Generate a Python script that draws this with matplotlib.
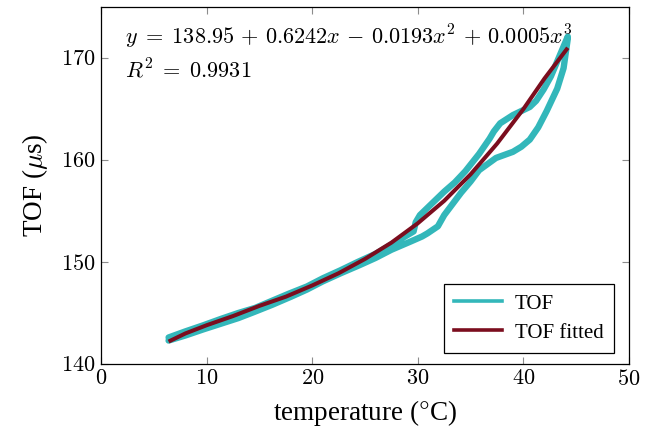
import matplotlib.pyplot as plt
from matplotlib.lines import Line2D
from matplotlib.ticker import FuncFormatter

plt.rcParams['mathtext.fontset'] = 'cm'
plt.rcParams['font.family'] = 'Liberation Serif'

# measured TOF loop: heating branch then cooling branch
tof_temp = [6.4, 8.0, 9.7, 11.5, 13.0, 14.5, 16.2, 18.0, 19.5, 21.0, 22.7, 24.5,
            26.0, 27.5, 29.3, 30.4, 30.9, 31.9, 32.5, 33.3, 34.1, 35.0, 35.8,
            36.6, 37.4, 38.2, 39.0, 39.8, 40.6, 41.4, 42.2, 43.2, 43.8, 44.2,
            44.2, 43.5, 42.6, 41.9, 41.2, 40.6, 39.8, 39.0, 38.4, 37.8, 37.2,
            36.8, 35.8, 34.5, 33.5, 32.5, 31.2, 30.2, 29.8, 29.6, 28.3, 26.0,
            24.3, 22.7, 21.0, 19.5, 17.8, 16.2, 14.6, 13.0, 11.3, 9.7, 8.0, 6.4]
tof_val = [142.3, 142.8, 143.4, 144.0, 144.5, 145.1, 145.8, 146.6, 147.3, 148.1,
           148.9, 149.7, 150.4, 151.2, 152.0, 152.5, 152.8, 153.5, 154.6, 155.7,
           156.8, 157.9, 159.0, 159.6, 160.2, 160.5, 160.8, 161.3, 162.0, 163.2,
           164.8, 167.0, 169.0, 171.9,
           172.1, 170.4, 168.2, 166.9, 165.8, 165.2, 164.8, 164.4, 164.0, 163.6,
           162.8, 162.1, 160.6, 158.9, 157.8, 156.9, 155.6, 154.6, 153.9, 153.0,
           152.2, 150.8, 150.0, 149.2, 148.4, 147.6, 146.9, 146.2, 145.5, 145.0,
           144.4, 143.8, 143.2, 142.6]

# fitted curve
fit_temp = [6.4, 8, 10, 12.5, 15, 17.5, 20, 22.5, 25, 27.5, 30, 32.5, 35, 37.5,
            40, 42, 44.2]
fit_val = [142.2, 143.0, 143.8, 144.7, 145.7, 146.6, 147.7, 148.9, 150.3, 151.9,
           153.8, 156.0, 158.6, 161.6, 165.0, 168.0, 171.0]

teal = '#33b7ba'
darkred = '#7b0d1e'

fig = plt.figure(figsize=(6.58, 4.32), dpi=100)
ax = fig.add_axes([0.1535, 0.1574, 0.8025, 0.8264])

ax.plot(tof_temp, tof_val, color=teal, lw=4.6, solid_joinstyle='round',
        solid_capstyle='round')
ax.plot(fit_temp, fit_val, color=darkred, lw=2.9, solid_capstyle='butt')

ax.set_xlim(0, 50)
ax.set_ylim(140, 175)
ax.set_xticks([0, 10, 20, 30, 40, 50])
ax.set_yticks([140, 150, 160, 170])
fmt = FuncFormatter(lambda v, p: f'${v:g}$')
ax.xaxis.set_major_formatter(fmt)
ax.yaxis.set_major_formatter(fmt)
ax.tick_params(direction='in', length=5, width=0.8, color='#8c8c8c',
               top=True, right=True, labelsize=16, pad=4)
for s in ax.spines.values():
    s.set_linewidth(0.9)

ax.set_xlabel('temperature ($\\degree$C)', fontsize=19.5, labelpad=6)
ax.set_ylabel('TOF ($\\mu$s)', fontsize=19.5, labelpad=8)

ax.text(0.045, 0.955,
        '$y \\;=\\; 138.95 \\,+\\, 0.6242x \\,-\\, 0.0193x^2 \\,+\\, 0.0005x^3$',
        transform=ax.transAxes, fontsize=16, va='top', ha='left')
ax.text(0.045, 0.855, '$R^2 \\;=\\; 0.9931$',
        transform=ax.transAxes, fontsize=16, va='top', ha='left')

handles = [Line2D([], [], color=teal, lw=2.6), Line2D([], [], color=darkred, lw=2.6)]
leg = ax.legend(handles, ['TOF', 'TOF fitted'], loc='lower right', fontsize=15,
                frameon=True, fancybox=False, edgecolor='black', framealpha=1,
                handlelength=2.3, borderpad=0.5, labelspacing=0.45,
                handletextpad=0.6, borderaxespad=0,
                bbox_to_anchor=(0.9716, 0.031))
leg.get_frame().set_linewidth(0.9)

fig.savefig('out.png', dpi=100)
